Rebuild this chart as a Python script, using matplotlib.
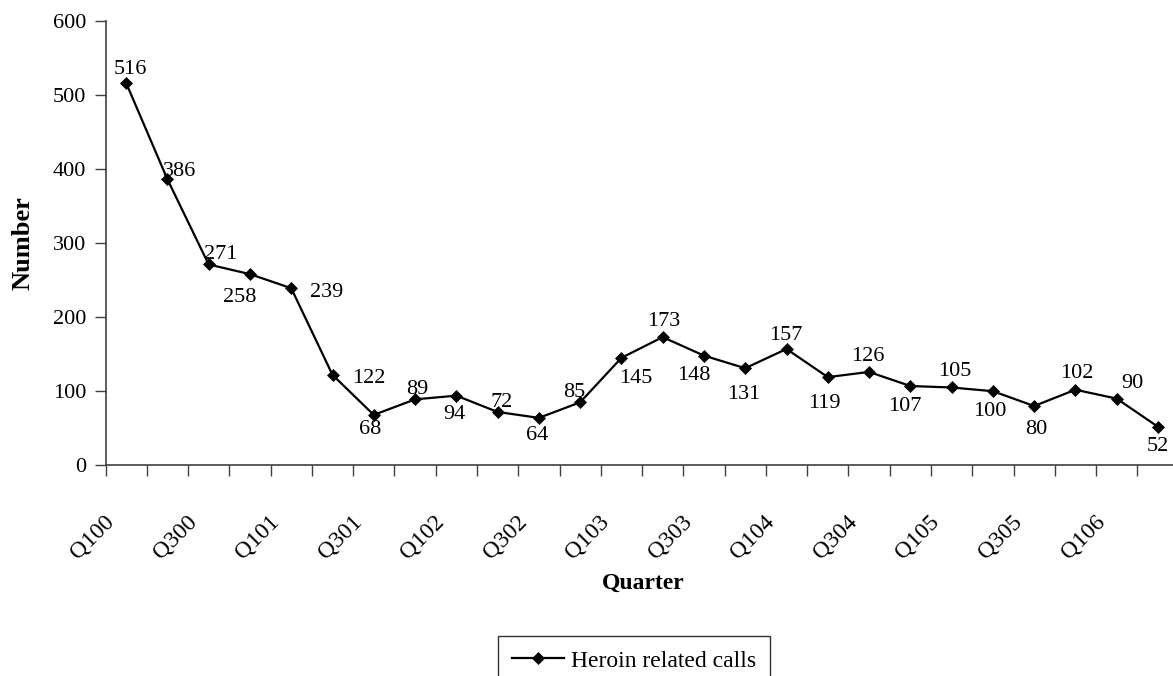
import numpy as np
import matplotlib
matplotlib.use("Agg")
import matplotlib.pyplot as plt
import matplotlib.transforms as mtransforms

# quarters Q1 2000 .. Q2 2006
quarters = ["Q100", "Q200", "Q300", "Q400",
            "Q101", "Q201", "Q301", "Q401",
            "Q102", "Q202", "Q302", "Q402",
            "Q103", "Q203", "Q303", "Q403",
            "Q104", "Q204", "Q304", "Q404",
            "Q105", "Q205", "Q305", "Q405",
            "Q106", "Q206"]
heroin_calls = [516, 386, 271, 258, 239, 122, 68, 89, 94, 72, 64, 85, 145,
                173, 148, 131, 157, 119, 126, 107, 105, 100, 80, 102, 90, 52]

# where each value label sits relative to its marker (pixels, x right / y up)
label_offsets = [(4, 13), (12, 8), (12, 10), (-10, -23), (35, -4), (36, -4),
                 (-4, -15), (2, 10), (-2, -19), (4, 9), (-2, -18), (-6, 10),
                 (14, -21), (1, 16), (-10, -20), (-1, -26), (-1, 13),
                 (-3, -26), (-1, 15), (-6, -20), (3, 16), (-3, -20),
                 (2, -23), (1, 16), (16, 15), (0, -20)]

plt.rcParams['font.family'] = ['Liberation Serif', 'DejaVu Serif']
FS = 16
axcol = '#404040'

W, H = 1173, 676
fig = plt.figure(figsize=(W / 100, H / 100), dpi=100)
ax = fig.add_axes([105.5 / W, (H - 465.3) / H, (1178.6 - 105.5) / W, (465.3 - 20.7) / H])

x = np.arange(len(quarters))
line, = ax.plot(x, heroin_calls, color='black', lw=1.6, marker='D', ms=5.8,
                mec='black', mfc='black', mew=0.5, label='Heroin related calls',
                clip_on=False, zorder=3)

for xi, yi, (dx, dy) in zip(x, heroin_calls, label_offsets):
    ax.annotate(str(yi), (xi, yi), xytext=(dx, dy), textcoords='offset pixels',
                ha='center', va='center', fontsize=FS, color='black')

ax.set_xlim(-0.5, len(quarters) - 0.5)
ax.set_ylim(0, 600)
ax.set_yticks(np.arange(0, 601, 100))

# category boundaries get the tick marks, every second category gets a label
ax.set_xticks(np.arange(-0.5, len(quarters) - 0.4, 1.0))
ax.set_xticklabels([])
ax.tick_params(axis='x', length=8, width=1, color=axcol, direction='out')
ax.tick_params(axis='y', length=8, width=1, color=axcol, pad=6,
               labelsize=FS)

# rotated quarter labels hung below the axis
lab_tr = ax.get_xaxis_transform() + mtransforms.ScaledTranslation(
    -8 / 100, -46 / 100, fig.dpi_scale_trans)
for xi, q in zip(x[::2], quarters[::2]):
    ax.text(xi, 0, q, transform=lab_tr, rotation=45, ha='right', va='top',
            fontsize=17)

for s in ['top', 'right']:
    ax.spines[s].set_visible(False)
for s in ['left', 'bottom']:
    ax.spines[s].set_color(axcol)
    ax.spines[s].set_linewidth(1.2)

fig.text(23 / W, 1 - 243 / H, 'Number', rotation=90, ha='center', va='center',
         fontsize=19, fontweight='bold')
fig.text(643 / W, 1 - 583 / H, 'Quarter', ha='center', va='center',
         fontsize=17, fontweight='bold')

leg = fig.legend(handles=[line], loc='upper left',
                 bbox_to_anchor=(498 / W, 1 - 636 / H), fontsize=17,
                 frameon=True, fancybox=False, borderpad=0.6,
                 handlelength=2.2, handletextpad=0.3, borderaxespad=0)
leg.get_frame().set_edgecolor('black')
leg.get_frame().set_linewidth(1.0)

fig.savefig('out.png', dpi=100, facecolor='white')
